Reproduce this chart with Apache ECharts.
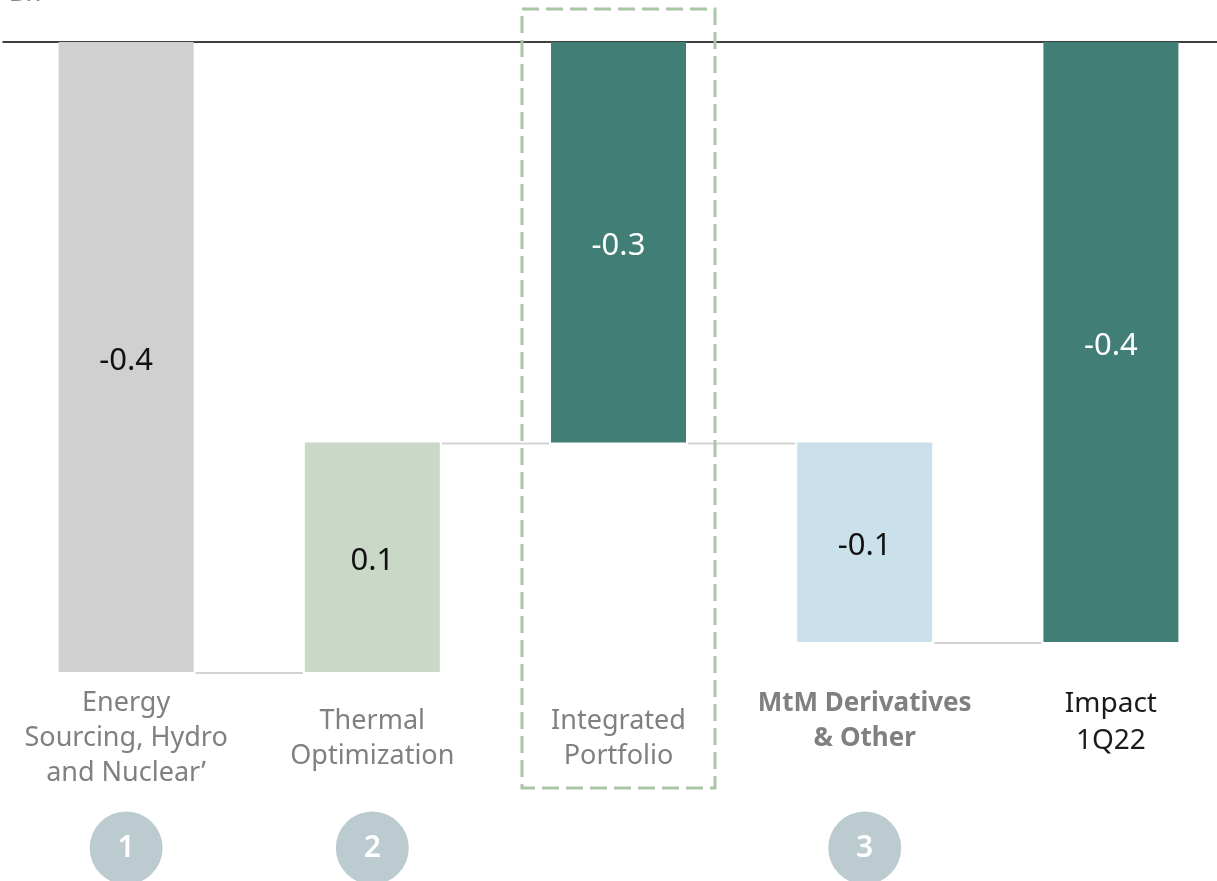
<!DOCTYPE html>
<html>
<head>
<meta charset="utf-8">
<script src="https://cdn.jsdelivr.net/npm/echarts@6/dist/echarts.min.js"></script>
<style>
  html, body { margin: 0; padding: 0; background: #ffffff; }
  #chart { width: 1217px; height: 881px; }
</style>
</head>
<body>
<div id="chart"></div>
<script>
// ---- data ----
const unitTitle = 'Bn';
const categories = ['Energy\nSourcing, Hydro\nand Nuclear\u2019', 'Thermal\nOptimization', 'Integrated\nPortfolio', 'MtM Derivatives\n& Other', 'Impact\n1Q22'];
const values = [-0.42, 0.153, -0.267, -0.133, -0.40];
const barKinds = ['delta', 'delta', 'total', 'delta', 'total'];
const valueLabels = ['-0.4', '0.1', '-0.3', '-0.1', '-0.4'];
const stepNumbers = ['1', '2', '', '3', ''];
const highlightedCategory = 2;

// ---- styles ----
const barColors = ['#d0d0d0', '#c9d8c7', '#407e76', '#cae0ea', '#407e76'];
const valueLabelColors = ['#111111', '#111111', '#ffffff', '#111111', '#ffffff'];
const catLabelColors = ['#808080', '#808080', '#808080', '#808080', '#1a1a1a'];
const catLabelWeights = ['normal', 'normal', 'normal', 'bold', 'normal'];
const catLabelSizes = [27, 27, 27, 26, 28];
const catLabelLineHeights = [35, 35, 35, 35, 37];
const catLabelPadTop = [0, 18, 18, 0, 0];
const BAR_W = 135;

// ---- waterfall computation ----
let running = 0;
const tops = [], lengths = [], ends = [];
values.forEach((v, i) => {
  let start, end;
  if (barKinds[i] === 'total') { start = 0; end = v; }
  else { start = running; end = running + v; }
  running = end;
  tops.push(Math.max(start, end));
  lengths.push(Math.min(start, end) - Math.max(start, end));
  ends.push(end);
});
const connectors = ends.slice(0, -1).map((v, i) => [i, v]);

const chart = echarts.init(document.getElementById('chart'));
const option = {
  animation: false,
  backgroundColor: '#ffffff',
  title: {
    text: unitTitle, left: 10, top: -21, padding: 0,
    textStyle: { fontFamily: 'Noto Sans', fontStyle: 'italic', fontWeight: 'normal', fontSize: 28, color: '#8a8a8a' }
  },
  grid: [
    { left: 3, width: 1231, top: 42, height: 630, outerBoundsMode: 'none', containLabel: false },
    { left: 3, width: 1231, top: 812, height: 72, outerBoundsMode: 'none', containLabel: false }
  ],
  xAxis: [
    {
      type: 'category', gridIndex: 0, position: 'bottom',
      data: categories.map((c, i) => ({
        value: c,
        textStyle: {
          color: catLabelColors[i], fontWeight: catLabelWeights[i],
          fontSize: catLabelSizes[i], lineHeight: catLabelLineHeights[i],
          padding: [catLabelPadTop[i], 0, 0, 0]
        }
      })),
      axisLine: { show: false }, axisTick: { show: false }, splitLine: { show: false },
      axisLabel: { interval: 0, margin: 14, fontFamily: 'Noto Sans', fontSize: 27, lineHeight: 35, verticalAlign: 'top' }
    },
    {
      type: 'category', gridIndex: 0, position: 'top', data: categories,
      axisLine: { show: true, onZero: false, lineStyle: { color: '#000000', width: 1.5 } },
      axisTick: { show: false }, axisLabel: { show: false }, splitLine: { show: false }
    },
    {
      type: 'category', gridIndex: 1, data: categories, show: false
    }
  ],
  yAxis: [
    { type: 'value', gridIndex: 0, min: -0.42, max: 0, show: false },
    { type: 'value', gridIndex: 1, min: 0, max: 1, show: false }
  ],
  series: [
    {
      name: 'base', type: 'bar', stack: 'wf', barWidth: BAR_W, silent: true,
      itemStyle: { color: 'rgba(0,0,0,0)' }, data: tops, z: 1
    },
    {
      name: 'value', type: 'bar', stack: 'wf', barWidth: BAR_W, z: 2,
      data: lengths.map((v, i) => ({ value: v, label: { color: valueLabelColors[i] } })),
      itemStyle: { color: p => barColors[p.dataIndex] },
      label: {
        show: true, position: 'inside', offset: [0, 4], fontFamily: 'Noto Sans', fontSize: 31,
        formatter: p => valueLabels[p.dataIndex]
      }
    },
    {
      name: 'connectors', type: 'custom', data: connectors, z: 0,
      encode: { x: 0, y: 1 },
      renderItem: (params, api) => {
        const i = api.value(0), v = api.value(1);
        const p0 = api.coord([i, v]);
        const p1 = api.coord([i + 1, v]);
        const hw = BAR_W / 2 + 2;
        return {
          type: 'line',
          shape: { x1: p0[0] + hw, y1: p0[1] + 1, x2: p1[0] - hw, y2: p1[1] + 1 },
          style: { stroke: '#d3d3d3', lineWidth: 2 }
        };
      }
    },
    {
      name: 'steps', type: 'scatter', xAxisIndex: 2, yAxisIndex: 1,
      symbol: 'circle', symbolSize: 73,
      itemStyle: { color: '#bccbd0', opacity: 1 },
      data: stepNumbers.map((s, i) => s ? { value: [i, 0.5], label: s } : null).filter(Boolean),
      label: {
        show: true, position: 'inside', color: '#ffffff', fontFamily: 'Noto Sans', fontSize: 30, fontWeight: 600,
        formatter: p => p.data.label
      }
    }
  ]
};
chart.setOption(option);

// dashed highlight box around the integrated portfolio column
const cx = chart.convertToPixel({ xAxisIndex: 0 }, highlightedCategory);
chart.setOption({
  graphic: [{
    type: 'rect', z: 10, silent: true,
    shape: { x: cx - 96.5, y: 9, width: 193, height: 779 },
    style: { fill: 'none', stroke: '#aac6a7', lineWidth: 3, lineDash: [17, 7] }
  }]
});
</script>
</body>
</html>
